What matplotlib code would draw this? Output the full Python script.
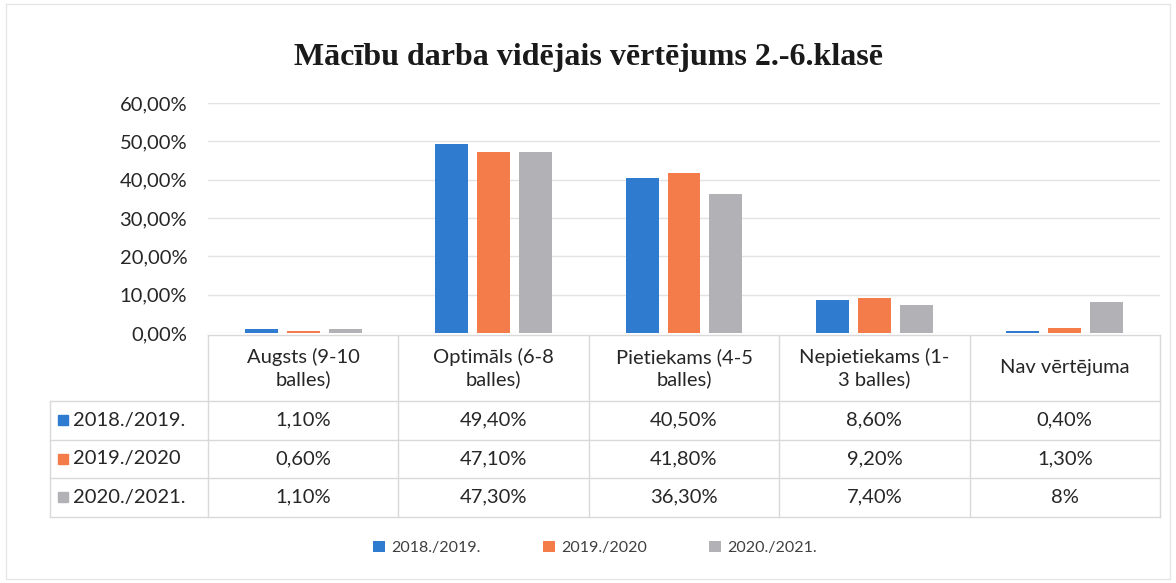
import matplotlib
matplotlib.use("Agg")
import matplotlib.pyplot as plt
import numpy as np

# ---- data ----
categories = ["Augsts (9-10\nballes)", "Optimāls (6-8\nballes)", "Pietiekams (4-5\nballes)",
              "Nepietiekams (1-\n3 balles)", "Nav vērtējuma"]
series_names = ["2018./2019.", "2019./2020", "2020./2021."]
s2018 = [1.1, 49.4, 40.5, 8.6, 0.4]
s2019 = [0.6, 47.1, 41.8, 9.2, 1.3]
s2020 = [1.1, 47.3, 36.3, 7.4, 8.0]
yticks = [0, 10, 20, 30, 40, 50, 60]
title = "Mācību darba vidējais vērtējums 2.-6.klasē"

colors = ["#2f7bd0", "#f47c4a", "#b2b2b6"]
series = [s2018, s2019, s2020]

W, H = 1176, 583
fig = plt.figure(figsize=(W / 100, H / 100), dpi=100)
fig.patch.set_facecolor("white")

SANS = ["Lato", "DejaVu Sans"]
txt_col = "#262626"
FS = 14.5

# plot area in pixels
L, R, T, B = 208, 1160, 103, 333
ax = fig.add_axes([L / W, 1 - B / H, (R - L) / W, (B - T) / H])
n = len(categories)
x = np.arange(n)
bw = 0.173
step = 0.22
bars = []
for i, (vals, c, name) in enumerate(zip(series, colors, series_names)):
    b = ax.bar(x + (i - 1) * step, vals, width=bw, color=c, label=name, zorder=3)
    bars.append(b)
ax.set_xlim(-0.5, n - 0.5)
ax.set_ylim(0, 60)
ax.set_yticks(yticks)
ax.set_yticklabels([f"{v:.2f}%".replace(".", ",") for v in yticks],
                   fontsize=FS, family=SANS, color=txt_col)
ax.tick_params(axis="y", length=0, pad=15)
ax.set_xticks([])
ax.grid(axis="y", color="#e3e3e3", lw=1, zorder=0)
for s in ax.spines.values():
    s.set_visible(False)

# overlay in pixel coords
ov = fig.add_axes([0, 0, 1, 1], zorder=-1)
ov.set_xlim(0, W)
ov.set_ylim(H, 0)
ov.axis("off")

fig.text(0.5, 1 - 58 / H, title, ha="center", va="center", fontsize=23,
         fontweight="bold", family=["Liberation Serif", "DejaVu Serif"], color="#1a1a1a")

# chart border
ov.plot([6, W - 6, W - 6, 6, 6], [4, 4, H - 4, H - 4, 4], color="#e6e6e6", lw=1)

# table
gcol = "#d9d9d9"
rowL = 50
head_top, head_bot = 335, 401
row_h = 38.5
col_w = (R - L) / n
row_edges = [head_bot + k * row_h for k in range(len(series) + 1)]
ov.plot([L, R], [head_top, head_top], color=gcol, lw=1)
for yy in row_edges:
    ov.plot([rowL, R], [yy, yy], color=gcol, lw=1)
ov.plot([rowL, rowL], [head_bot, row_edges[-1]], color=gcol, lw=1)
for k in range(n + 1):
    xx = L + k * col_w
    ov.plot([xx, xx], [head_top, row_edges[-1]], color=gcol, lw=1)

for j, cat in enumerate(categories):
    ov.text(L + (j + 0.5) * col_w, (head_top + head_bot) / 2, cat, ha="center", va="center",
            fontsize=FS, family=SANS, color=txt_col, linespacing=1.25)


def fmt(v):
    if float(v).is_integer():
        return f"{v:.0f}%"
    return f"{v:.2f}%".replace(".", ",")


for i, (vals, c, name) in enumerate(zip(series, colors, series_names)):
    yc = row_edges[i] + row_h / 2
    ov.add_patch(plt.Rectangle((58, yc - 5), 10, 10, color=c))
    ov.text(73, yc, name, ha="left", va="center", fontsize=FS, family=SANS, color=txt_col)
    for j, v in enumerate(vals):
        ov.text(L + (j + 0.5) * col_w, yc, fmt(v), ha="center", va="center",
                fontsize=FS, family=SANS, color=txt_col)

leg = fig.legend(handles=bars, labels=series_names, loc="center",
                 bbox_to_anchor=(595 / W, 1 - 548 / H), ncol=3, frameon=False,
                 handlelength=0.75, handleheight=0.75, handletextpad=0.4,
                 columnspacing=3.9, prop={"family": SANS, "size": 11.5})
for t in leg.get_texts():
    t.set_color("#404040")

fig.savefig("out.png", dpi=100)
